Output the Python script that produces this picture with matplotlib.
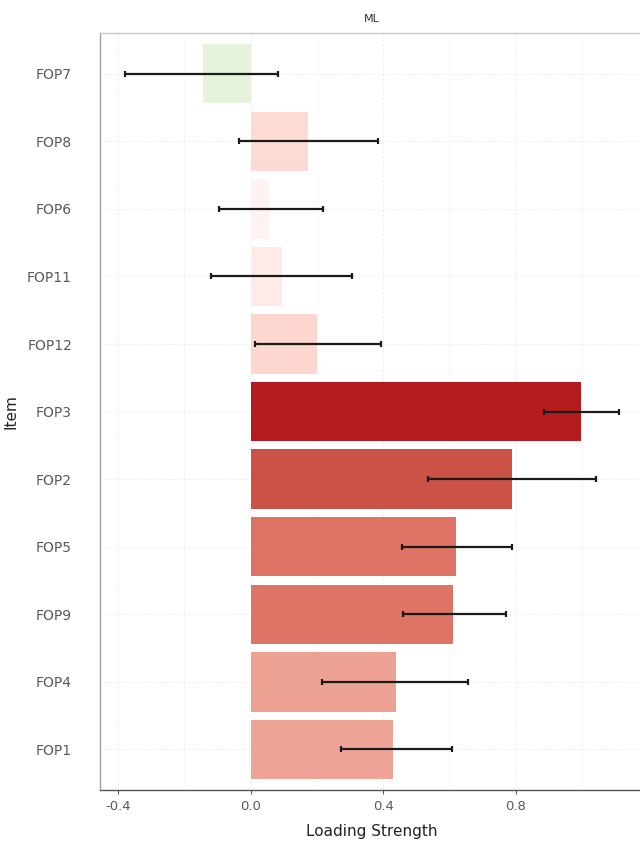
import numpy as np
import matplotlib
matplotlib.use("Agg")
import matplotlib.pyplot as plt
from matplotlib.colors import LinearSegmentedColormap, Normalize

# items from bottom to top
items = ['FOP1', 'FOP4', 'FOP9', 'FOP5', 'FOP2', 'FOP3', 'FOP12', 'FOP11', 'FOP6', 'FOP8', 'FOP7']
loading = [0.43, 0.44, 0.61, 0.62, 0.79, 0.997, 0.20, 0.094, 0.057, 0.172, -0.145]
ci_low = [0.272, 0.215, 0.459, 0.456, 0.535, 0.885, 0.012, -0.118, -0.094, -0.036, -0.38]
ci_high = [0.607, 0.656, 0.770, 0.789, 1.042, 1.112, 0.393, 0.305, 0.218, 0.384, 0.082]

# diverging fill: green for negative, white at zero, dark red for high
vals = [-1.0, 0.0, 0.2, 0.43, 0.61, 0.79, 1.0]
cols = ['#53a50e', '#ffffff', '#fcd6cf', '#eea597', '#de7566', '#cd5448', '#b31b1e']
cmap = LinearSegmentedColormap.from_list('gr', [((v + 1) / 2, c) for v, c in zip(vals, cols)])
norm = Normalize(vmin=-1.0, vmax=1.0)

fig = plt.figure(figsize=(6.4, 8.41), dpi=100)
ax = fig.add_axes([0.156, 0.0606, 0.85, 0.9])

y = np.arange(len(items))
ax.barh(y, loading, height=0.88, color=cmap(norm(np.array(loading))), zorder=2)
xerr = [np.array(loading) - np.array(ci_low), np.array(ci_high) - np.array(loading)]
ax.errorbar(loading, y, xerr=xerr, fmt='none', ecolor='#1a1a1a', elinewidth=1.6,
            capsize=2, capthick=1.6, zorder=3)

ax.set_xlim(-0.455, 1.187)
ax.set_ylim(-0.6, len(items) - 0.4)
ax.set_yticks(y)
ax.set_yticklabels(items)
ax.set_xticks([-0.4, 0.0, 0.4, 0.8])
ax.set_xticklabels(['-0.4', '0.0', '0.4', '0.8'])
ax.set_xticks([-0.2, 0.2, 0.6, 1.0], minor=True)

ax.grid(True, which='major', color='#efefef', linewidth=0.7, linestyle=(0, (3, 2)), zorder=0)
ax.grid(True, which='minor', axis='x', color='#f5f5f5', linewidth=0.5, zorder=0)
ax.set_axisbelow(True)

for s in ['top', 'right']:
    ax.spines[s].set_color('#c8c8c8')
    ax.spines[s].set_linewidth(1.0)
ax.spines['left'].set_color('#a0a0a0')
ax.spines['left'].set_linewidth(1.0)
ax.spines['bottom'].set_color('#555555')
ax.spines['bottom'].set_linewidth(1.0)
ax.tick_params(axis='y', length=0, labelsize=10, colors='#595959', pad=20)
ax.tick_params(axis='x', which='major', length=3, labelsize=9.5, colors='#595959', pad=4)
ax.tick_params(axis='x', which='minor', length=0)

ax.set_xlabel('Loading Strength', fontsize=11, labelpad=8, color='#222222')
ax.set_ylabel('Item', fontsize=11, labelpad=6, color='#222222')
ax.set_title('ML', fontsize=8, color='#333333', pad=8)

fig.savefig('out.png', dpi=100)
